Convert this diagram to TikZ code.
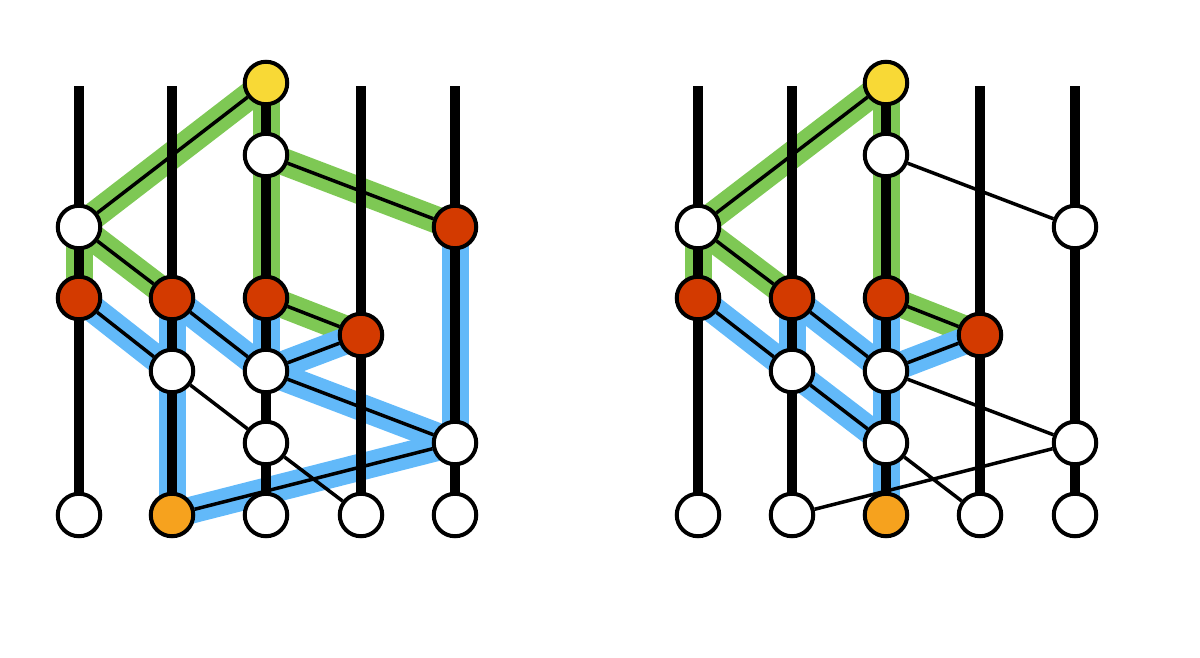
\documentclass[tikz,border=0pt]{standalone}
\usetikzlibrary{backgrounds}
\definecolor{cyel}{HTML}{F8D936}
\definecolor{cred}{HTML}{D33A00}
\definecolor{cora}{HTML}{F6A21E}
\definecolor{cgrn}{HTML}{7EC854}
\definecolor{cblu}{HTML}{62B9F9}
\pgfdeclarelayer{hl}
\pgfdeclarelayer{ln}
\pgfsetlayers{hl,ln,main}
\tikzset{
  nd/.style={circle,draw=black,line width=4pt,minimum size=42.5pt,inner sep=0pt},
  wn/.style={nd,fill=white},
  rn/.style={nd,fill=cred},
  yn/.style={nd,fill=cyel},
  on/.style={nd,fill=cora},
  vline/.style={line width=10.5pt,black},
  edge/.style={line width=3.5pt,black},
  hlg/.style={line width=27pt,cgrn,line cap=round},
  hlb/.style={line width=27pt,cblu,line cap=round},
}
\begin{document}
\begin{tikzpicture}[x=1pt,y=-1pt]
\useasboundingbox (0,0) rectangle (1200,657);
% ---------------- left panel ----------------
\node[yn] (L30) at (266,83) {};
\node[wn] (L31) at (266,155) {};
\node[wn] (L12) at (79,227) {};
\node[rn] (L52) at (455,227) {};
\node[rn] (L13) at (79,298) {};
\node[rn] (L23) at (172,298) {};
\node[rn] (L33) at (266,298) {};
\node[rn] (L44) at (361,335) {};
\node[wn] (L25) at (172,371) {};
\node[wn] (L35) at (266,371) {};
\node[wn] (L36) at (266,443) {};
\node[wn] (L56) at (455,443) {};
\node[wn] (L17) at (79,515) {};
\node[on] (L27) at (172,515) {};
\node[wn] (L37) at (266,515) {};
\node[wn] (L47) at (361,515) {};
\node[wn] (L57) at (455,515) {};
\coordinate (Lt1) at (79,86);
\coordinate (Lt2) at (172,86);
\coordinate (Lt4) at (361,86);
\coordinate (Lt5) at (455,86);
% ---------------- right panel ----------------
\node[yn] (R30) at (886,83) {};
\node[wn] (R31) at (886,155) {};
\node[wn] (R12) at (698,227) {};
\node[wn] (R52) at (1075,227) {};
\node[rn] (R13) at (698,298) {};
\node[rn] (R23) at (792,298) {};
\node[rn] (R33) at (886,298) {};
\node[rn] (R44) at (980,335) {};
\node[wn] (R25) at (792,371) {};
\node[wn] (R35) at (886,371) {};
\node[wn] (R36) at (886,443) {};
\node[wn] (R56) at (1075,443) {};
\node[wn] (R17) at (698,515) {};
\node[wn] (R27) at (792,515) {};
\node[on] (R37) at (886,515) {};
\node[wn] (R47) at (980,515) {};
\node[wn] (R57) at (1075,515) {};
\coordinate (Rt1) at (698,86);
\coordinate (Rt2) at (792,86);
\coordinate (Rt4) at (980,86);
\coordinate (Rt5) at (1075,86);
% ---------------- highlights ----------------
\begin{pgfonlayer}{hl}
% left green
\draw[hlg] (L30.center) -- (L12.center);
\draw[hlg] (L30.center) -- (L31.center);
\draw[hlg] (L31.center) -- (L33.center);
\draw[hlg] (L31.center) -- (L52.center);
\draw[hlg] (L12.center) -- (L13.center);
\draw[hlg] (L12.center) -- (L23.center);
\draw[hlg] (L33.center) -- (L44.center);
% left blue
\draw[hlb] (L13.center) -- (L25.center);
\draw[hlb] (L23.center) -- (L35.center);
\draw[hlb] (L23.center) -- (L27.center);
\draw[hlb] (L33.center) -- (L35.center);
\draw[hlb] (L35.center) -- (L44.center);
\draw[hlb] (L35.center) -- (L56.center);
\draw[hlb] (L52.center) -- (L56.center);
\draw[hlb] (L56.center) -- (L27.center);
% right green
\draw[hlg] (R30.center) -- (R12.center);
\draw[hlg] (R30.center) -- (R31.center);
\draw[hlg] (R31.center) -- (R33.center);
\draw[hlg] (R12.center) -- (R13.center);
\draw[hlg] (R12.center) -- (R23.center);
\draw[hlg] (R33.center) -- (R44.center);
% right blue
\draw[hlb] (R13.center) -- (R25.center);
\draw[hlb] (R23.center) -- (R25.center);
\draw[hlb] (R23.center) -- (R35.center);
\draw[hlb] (R33.center) -- (R35.center);
\draw[hlb] (R35.center) -- (R44.center);
\draw[hlb] (R25.center) -- (R36.center);
\draw[hlb] (R35.center) -- (R37.center);
\end{pgfonlayer}
% ---------------- lines ----------------
\begin{pgfonlayer}{ln}
% left verticals
\draw[vline] (Lt1) -- (L17.center);
\draw[vline] (Lt2) -- (L27.center);
\draw[vline] (L30.center) -- (L37.center);
\draw[vline] (Lt4) -- (L47.center);
\draw[vline] (Lt5) -- (L57.center);
% right verticals
\draw[vline] (Rt1) -- (R17.center);
\draw[vline] (Rt2) -- (R27.center);
\draw[vline] (R30.center) -- (R37.center);
\draw[vline] (Rt4) -- (R47.center);
\draw[vline] (Rt5) -- (R57.center);
% left edges
\draw[edge] (L30) -- (L12);
\draw[edge] (L31) -- (L52);
\draw[edge] (L12) -- (L23);
\draw[edge] (L13) -- (L25);
\draw[edge] (L23) -- (L35);
\draw[edge] (L33) -- (L44);
\draw[edge] (L35) -- (L44);
\draw[edge] (L25) -- (L36);
\draw[edge] (L35) -- (L56);
\draw[edge] (L36) -- (L47);
\draw[edge] (L56) -- (L27);
% right edges
\draw[edge] (R30) -- (R12);
\draw[edge] (R31) -- (R52);
\draw[edge] (R12) -- (R23);
\draw[edge] (R13) -- (R25);
\draw[edge] (R23) -- (R35);
\draw[edge] (R33) -- (R44);
\draw[edge] (R35) -- (R44);
\draw[edge] (R25) -- (R36);
\draw[edge] (R35) -- (R56);
\draw[edge] (R36) -- (R47);
\draw[edge] (R56) -- (R27);
\end{pgfonlayer}
\end{tikzpicture}
\end{document}
